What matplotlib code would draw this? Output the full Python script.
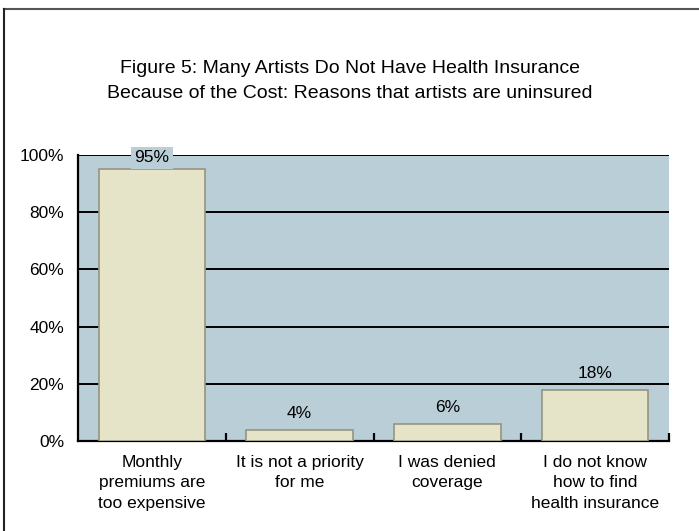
import matplotlib.pyplot as plt
import numpy as np
from matplotlib.lines import Line2D
import matplotlib.ticker as ticker

plt.rcParams['font.family'] = ['Liberation Sans', 'DejaVu Sans']

# Data
categories = ['Monthly\npremiums are\ntoo expensive',
              'It is not a priority\nfor me',
              'I was denied\ncoverage',
              'I do not know\nhow to find\nhealth insurance']
values = [95, 4, 6, 18]
title = ('Figure 5: Many Artists Do Not Have Health Insurance\n'
         'Because of the Cost: Reasons that artists are uninsured')

W, H = 699, 531
fig = plt.figure(figsize=(W / 100, H / 100), dpi=100)
ax = fig.add_axes([78 / W, 1 - 441 / H, (669 - 78) / W, (441 - 155) / H])
ax.set_facecolor('#B9CED7')

x = np.arange(len(values))
ax.bar(x, values, width=0.72, color='#E5E3C8', edgecolor='#95957F',
       linewidth=1.2, zorder=3)

ax.set_xlim(-0.5, len(values) - 0.5)
ax.set_ylim(0, 100)
ax.yaxis.set_major_locator(ticker.MultipleLocator(20))
ax.yaxis.set_major_formatter(ticker.FuncFormatter(lambda v, p: '%d%%' % v))
ax.grid(axis='y', color='black', linewidth=1.4, zorder=1)
ax.set_axisbelow(True)

for s in ['top', 'right']:
    ax.spines[s].set_visible(False)
ax.spines['left'].set_linewidth(1.6)
ax.spines['bottom'].set_linewidth(1.6)

ax.tick_params(axis='y', length=0, pad=10, labelsize=12.5)
ax.set_xticks(x)
ax.set_xticklabels(categories, fontsize=12.5, linespacing=1.45)
ax.tick_params(axis='x', length=0, pad=10)
ax.set_xticks(np.arange(0.5, len(values), 1), minor=True)
ax.tick_params(axis='x', which='minor', direction='in', length=6, width=1.6)

for xi, v in zip(x, values):
    if v > 90:
        ax.text(xi, v + 4, '%d%%' % v, ha='center', va='center', fontsize=12.5,
                bbox=dict(facecolor='#B9CED7', edgecolor='none', pad=2.5), zorder=5)
    else:
        ax.text(xi, v + 3, '%d%%' % v, ha='center', va='bottom', fontsize=12.5, zorder=5)

fig.text(0.5, 1 - 81 / H, title, ha='center', va='center', fontsize=14, linespacing=1.55)

# frame lines (top and left only)
fig.add_artist(Line2D([4 / W, 1], [1 - 9 / H, 1 - 9 / H], color='#555555', linewidth=1.5))
fig.add_artist(Line2D([4 / W, 4 / W], [0, 1 - 9 / H], color='#222222', linewidth=1.5))

fig.savefig('out.png', dpi=100)
